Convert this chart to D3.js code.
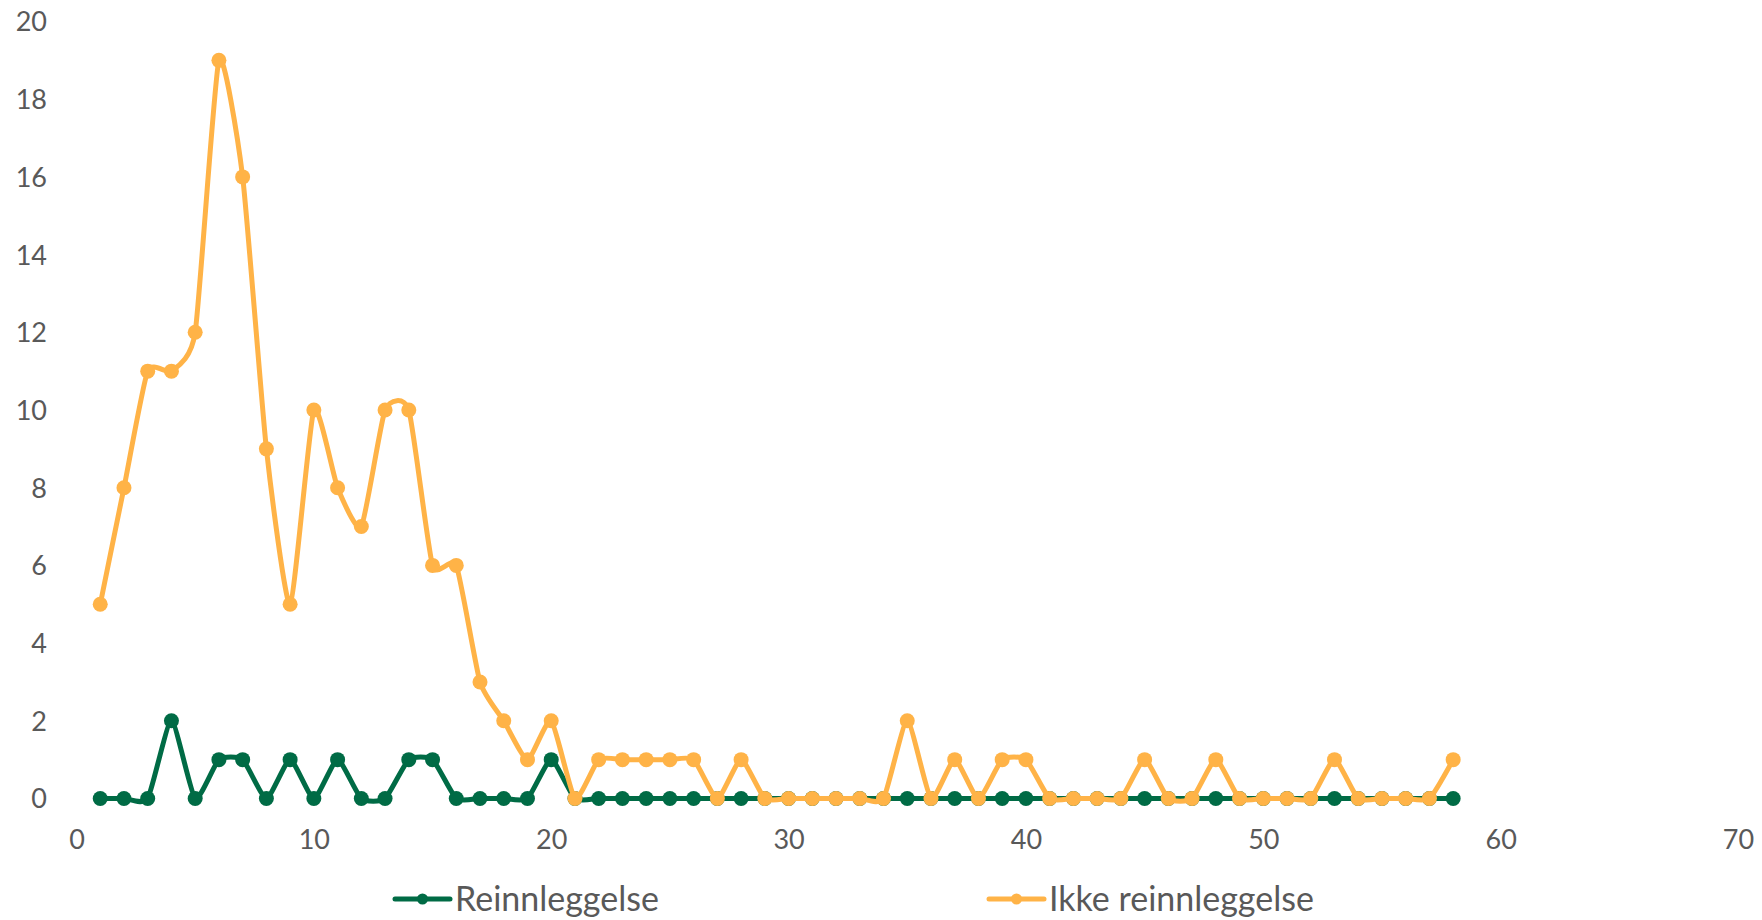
<!DOCTYPE html>
<html>
<head>
<meta charset="utf-8">
<script src="https://cdn.jsdelivr.net/npm/d3@7"></script>
<style>
  html, body { margin: 0; padding: 0; background: #ffffff; }
  svg { display: block; }
</style>
</head>
<body>
<svg id="chart" width="1762" height="920"></svg>
<script>
// ---- data ----
const xValues = [1,2,3,4,5,6,7,8,9,10,11,12,13,14,15,16,17,18,19,20,21,22,23,24,25,26,27,28,29,30,31,32,33,34,35,36,37,38,39,40,41,42,43,44,45,46,47,48,49,50,51,52,53,54,55,56,57,58];
const reinnleggelse = [0,0,0,2,0,1,1,0,1,0,1,0,0,1,1,0,0,0,0,1,0,0,0,0,0,0,0,0,0,0,0,0,0,0,0,0,0,0,0,0,0,0,0,0,0,0,0,0,0,0,0,0,0,0,0,0,0,0];
const ikkeReinnleggelse = [5,8,11,11,12,19,16,9,5,10,8,7,10,10,6,6,3,2,1,2,0,1,1,1,1,1,0,1,0,0,0,0,0,0,2,0,1,0,1,1,0,0,0,0,1,0,0,1,0,0,0,0,1,0,0,0,0,1];
const seriesNames = ["Reinnleggelse", "Ikke reinnleggelse"];
const xTicks = [0,10,20,30,40,50,60,70];
const yTicks = [0,2,4,6,8,10,12,14,16,18,20];

// ---- styles ----
const colors = ["#006B45", "#FFB347"];
const textColor = "#595959";
const fontFamily = "Lato, 'Open Sans', sans-serif";
const fontSize = 27;
const legendFontSize = 34;

const svg = d3.select("#chart");
const x = d3.scaleLinear().domain([0, 70]).range([76.5, 1738]);
const y = d3.scaleLinear().domain([0, 20]).range([798.5, 21.5]);

// y axis labels
const yAxis = d3.axisLeft(y).tickValues(yTicks).tickSize(0).tickPadding(0).tickFormat(d3.format("d"));
const gy = svg.append("g").attr("transform", "translate(47,0)").call(yAxis);
gy.select(".domain").remove();
gy.selectAll("text").attr("fill", textColor).attr("font-family", fontFamily).attr("font-size", fontSize).attr("dy", "0.35em");

// x axis labels
const xAxis = d3.axisBottom(x).tickValues(xTicks).tickSize(0).tickPadding(0).tickFormat(d3.format("d"));
const gx = svg.append("g").attr("transform", "translate(0,840)").call(xAxis);
gx.select(".domain").remove();
gx.selectAll("text").attr("fill", textColor).attr("font-family", fontFamily).attr("font-size", fontSize).attr("dy", "0.35em");

const line = d3.line().x((d) => x(d[0])).y((d) => y(d[1])).curve(d3.curveCardinal.tension(0.45));

const allSeries = [reinnleggelse, ikkeReinnleggelse];
allSeries.forEach((vals, i) => {
  const pts = xValues.map((xv, j) => [xv, vals[j]]);
  const g = svg.append("g");
  g.append("path").datum(pts).attr("d", line)
    .attr("fill", "none").attr("stroke", colors[i]).attr("stroke-width", 5)
    .attr("stroke-linejoin", "round").attr("stroke-linecap", "round");
  g.selectAll("circle").data(pts).enter().append("circle")
    .attr("cx", (d) => x(d[0])).attr("cy", (d) => y(d[1])).attr("r", 7.5)
    .attr("fill", colors[i]);
});

// legend
const legendX = [395, 989];
const legendY = 899;
seriesNames.forEach((name, i) => {
  const g = svg.append("g").attr("transform", `translate(${legendX[i]},${legendY})`);
  g.append("line").attr("x1", 0).attr("x2", 55).attr("y1", 0).attr("y2", 0)
    .attr("stroke", colors[i]).attr("stroke-width", 5).attr("stroke-linecap", "round");
  g.append("circle").attr("cx", 27.5).attr("cy", 0).attr("r", 5.5).attr("fill", colors[i]);
  g.append("text").attr("x", 60).attr("y", 0).attr("dy", "0.35em")
    .attr("fill", textColor).attr("font-family", fontFamily).attr("font-size", legendFontSize)
    .text(name);
});
</script>
</body>
</html>
